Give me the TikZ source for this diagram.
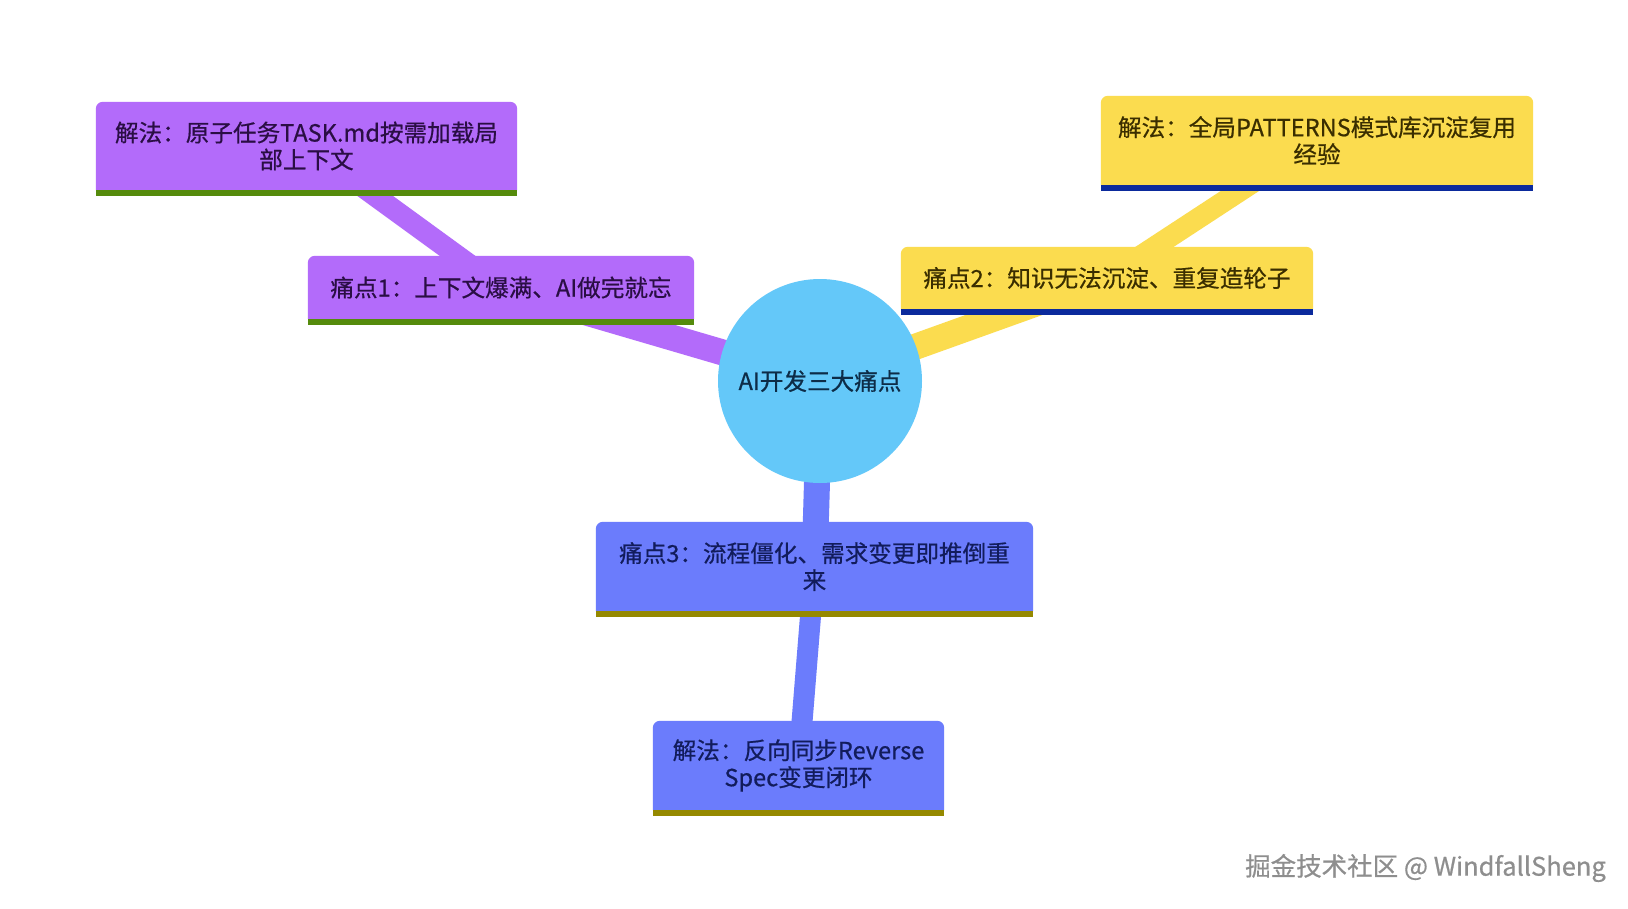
\documentclass[tikz,border=0pt]{standalone}
\usepackage{fontspec}
\setmainfont{Noto Sans CJK SC}[FakeBold=0.6]
\pgfdeclarelayer{edgelayer}
\pgfdeclarelayer{boxlayer}
\pgfsetlayers{edgelayer,boxlayer,main}
\definecolor{purp}{HTML}{B36BFA}
\definecolor{purpband}{HTML}{558B0C}
\definecolor{purptext}{HTML}{2A0E44}
\definecolor{yel}{HTML}{FBDC4F}
\definecolor{yelband}{HTML}{0B2A9C}
\definecolor{yeltext}{HTML}{3A2E00}
\definecolor{blu}{HTML}{6B7CFC}
\definecolor{bluband}{HTML}{958900}
\definecolor{blutext}{HTML}{121C5C}
\definecolor{rootc}{HTML}{64C8F9}
\definecolor{roottext}{HTML}{0D2C47}
\definecolor{wmgray}{HTML}{8E8E8E}
\tikzset{
  mbox/.style={inner sep=0pt, align=center, font=\fontsize{23.6}{27}\selectfont},
  rootedge/.style={line width=26pt},
  childedge/.style={line width=21pt},
}
\newcommand\boxfill[3]{%
  \begin{pgfonlayer}{boxlayer}
    \fill[#2] (#1.south west) [rounded corners=7pt] -- (#1.north west) -- (#1.north east) [sharp corners] -- (#1.south east) -- cycle;
    \fill[#3] (#1.south west) rectangle ([yshift=-5.5pt]#1.south east);
  \end{pgfonlayer}}
\begin{document}
\begin{tikzpicture}[x=1pt,y=-1pt]
\useasboundingbox (0,0) rectangle (1628,908);
% root
\node[circle, fill=rootc, minimum size=204pt, inner sep=0pt, text=roottext,
      font=\fontsize{23.6}{27}\selectfont] (root) at (820,381) {AI开发三大痛点};
% pain points
\node[mbox, minimum width=386pt, minimum height=63pt, text=purptext] (p1) at (501,287.5) {痛点1：上下文爆满、AI做完就忘};
\node[mbox, minimum width=412pt, minimum height=62pt, text=yeltext] (p2) at (1107,278) {痛点2：知识无法沉淀、重复造轮子};
\node[mbox, minimum width=437pt, minimum height=89pt, text=blutext] (p3) at (814.5,566.5) {痛点3：流程僵化、需求变更即推倒重\\来};
% solutions
\node[mbox, minimum width=421pt, minimum height=88pt, text=purptext] (s1) at (306.5,146) {解法：原子任务TASK.md按需加载局\\部上下文};
\node[mbox, minimum width=432pt, minimum height=89pt, text=yeltext] (s2) at (1317,140.5) {解法：全局PATTERNS模式库沉淀复用\\经验};
\node[mbox, minimum width=291pt, minimum height=89pt, text=blutext] (s3) at (798.5,765.5) {解法：反向同步Reverse\\Spec变更闭环};
\boxfill{p1}{purp}{purpband}
\boxfill{s1}{purp}{purpband}
\boxfill{p2}{yel}{yelband}
\boxfill{s2}{yel}{yelband}
\boxfill{p3}{blu}{bluband}
\boxfill{s3}{blu}{bluband}
% edges
\begin{pgfonlayer}{edgelayer}
  \fill[white] (0,0) rectangle (1628,908);
  \draw[rootedge, purp] (root.center) -- (p1.center);
  \draw[childedge, purp] (p1.center) -- (s1.center);
  \draw[rootedge, yel] (root.center) -- (p2.center);
  \draw[childedge, yel] (p2.center) -- (s2.center);
  \draw[rootedge, blu] (root.center) -- (p3.center);
  \draw[childedge, blu] (p3.center) -- (s3.center);
\end{pgfonlayer}
% watermark
\node[anchor=east, inner sep=0pt, text=wmgray, font=\fontsize{25.5}{25.5}\selectfont] (wm) at (1606,868) {掘金技术社区 @ WindfallSheng};
\end{tikzpicture}
\end{document}
